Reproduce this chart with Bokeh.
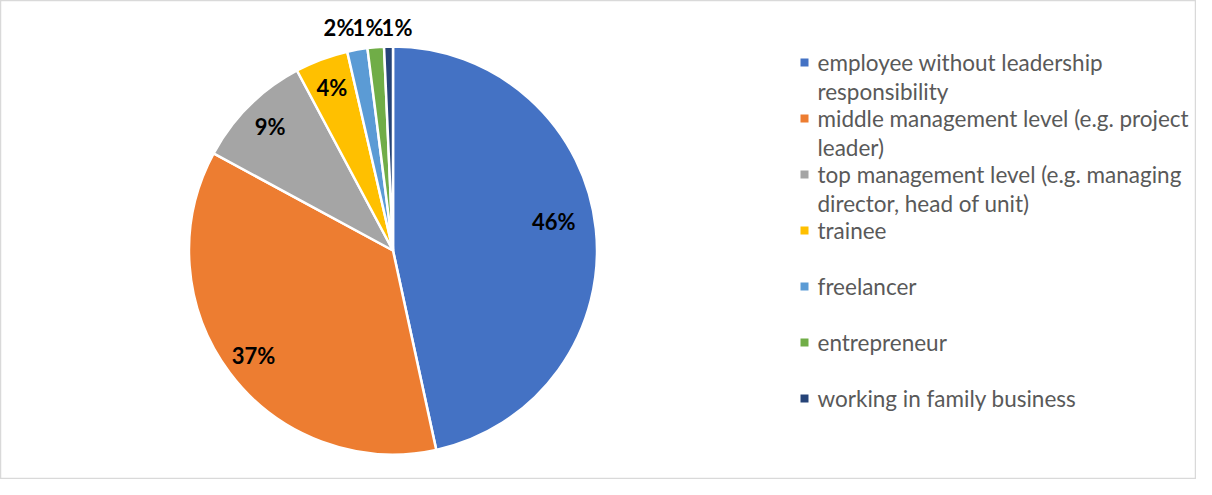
import math
from bokeh.plotting import figure
from bokeh.models import Range1d, ColumnDataSource
from bokeh.core.properties import value
from bokeh.embed import file_html
from bokeh.resources import INLINE

# ---- data ----
categories = [
    "employee without leadership responsibility",
    "middle management level (e.g. project leader)",
    "top management level (e.g. managing director, head of unit)",
    "trainee",
    "freelancer",
    "entrepreneur",
    "working in family business",
]
legend_lines = [
    ["employee without leadership", "responsibility"],
    ["middle management level (e.g. project", "leader)"],
    ["top management level (e.g. managing", "director, head of unit)"],
    ["trainee"],
    ["freelancer"],
    ["entrepreneur"],
    ["working in family business"],
]
shares = [46.6, 36.3, 9.3, 4.2, 1.6, 1.3, 0.7]
labels = ["46%", "37%", "9%", "4%", "2%", "1%", "1%"]
colors = ["#4472C4", "#ED7D31", "#A5A5A5", "#FFC000", "#5B9BD5", "#70AD47", "#264478"]

# ---- layout (pixel-like data units, y up) ----
W, H = 1196, 479
FONT = "Lato"
cx, cy, R = 392.5, 229, 204

p = figure(width=W, height=H, x_range=Range1d(0, W), y_range=Range1d(0, H),
           output_backend="svg", toolbar_location=None, min_border=0)
p.axis.visible = False
p.grid.visible = False
p.outline_line_color = "#D9D9D9"
p.outline_line_width = 1.5
p.background_fill_color = "white"

total = sum(shares)
starts, ends, mids = [], [], []
cum = 0.0
for s in shares:
    a0 = math.pi / 2 - 2 * math.pi * cum / total
    cum += s
    a1 = math.pi / 2 - 2 * math.pi * cum / total
    starts.append(a0)
    ends.append(a1)
    mids.append((a0 + a1) / 2)

src = ColumnDataSource(dict(start=starts, end=ends, color=colors, cat=categories))
p.wedge(x=cx, y=cy, radius=R, start_angle="start", end_angle="end", direction="clock",
        fill_color="color", line_color="white", line_width=2.5, source=src)

# ---- data labels ----
in_x, in_y, in_t = [], [], []
out_idx = []
for i, (m, t) in enumerate(zip(mids, labels)):
    if shares[i] >= 2:
        f = 0.80 if i == 0 else 0.855
        nudge = 0.07 if i == 0 else 0.0
        in_x.append(cx + f * R * math.cos(m + nudge))
        in_y.append(cy + f * R * math.sin(m + nudge))
        in_t.append(t)
    else:
        out_idx.append(i)
p.text(x=in_x, y=in_y, text=in_t, text_font=value(FONT), text_font_style="bold",
       text_font_size="22px", text_color="black", text_align="center", text_baseline="middle")

# outside labels in a row above the pie
spacing = 29
last = out_idx[-1]
x_last = cx + R * math.cos(mids[last]) + 8.5
out_x = [x_last - (len(out_idx) - 1 - k) * spacing for k in range(len(out_idx))]
out_y = [cy + R + 19] * len(out_idx)
p.text(x=out_x, y=out_y, text=[labels[i] for i in out_idx], text_font=value(FONT),
       text_font_style="bold", text_font_size="22px", text_color="black",
       text_align="center", text_baseline="middle")

# ---- legend ----
lx_sq, lx_txt = 804, 817
top_row = H - 62
step, line_step = 56, 29
sq_y, tx, ty, tt = [], [], [], []
for i, lines in enumerate(legend_lines):
    y0 = top_row - i * step
    sq_y.append(y0)
    for k, ln in enumerate(lines):
        tx.append(lx_txt)
        ty.append(y0 - k * line_step)
        tt.append(ln)
p.rect(x=[lx_sq] * len(sq_y), y=sq_y, width=8, height=8, fill_color=colors, line_color=None)
p.text(x=tx, y=ty, text=tt, text_font=value(FONT), text_font_size="22.5px",
       text_color="#595959", text_align="left", text_baseline="middle")

open("out.html", "w").write(file_html(p, INLINE))
